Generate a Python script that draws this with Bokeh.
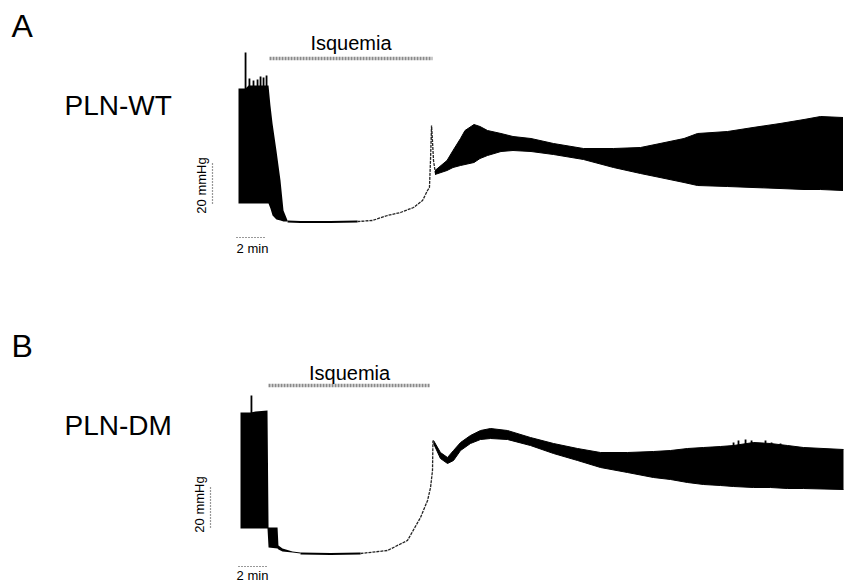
import math
from bokeh.plotting import figure
from bokeh.models import Range1d, Label
from bokeh.layouts import column
from bokeh.embed import file_html
from bokeh.resources import INLINE

# ---------------- data (time in min, pressure in mmHg) ----------------
# Panel A : PLN-WT
A_block_t = [0, 0.47, 0.67, 2.0, 2.13, 2.27, 2.53, 2.8, 3.0, 3.27]
A_block_hi = [71.5, 71.5, 73, 73, 63, 54, 40.5, 25.5, 10.5, 5.5]
A_block_lo = [14, 14, 14, 14, 11.5, 8, 6, 5.5, 5, 5]
A_spike_t = [0.47, 0.73, 1.0, 1.27, 1.47, 1.67, 1.87]
A_spike_top = [89.5, 76.5, 75.5, 76, 77.5, 77, 78]
A_spike_base = [71, 72, 72, 72, 72, 72, 72]
A_isch_t = [3.27, 4.13, 6.13, 7.93, 8.93, 9.93, 10.8, 11.67, 12.27, 12.6, 12.73, 12.8, 12.87, 12.93, 13.0, 13.13]
A_isch_p = [5.0, 4.75, 4.75, 5.0, 5.5, 8.0, 9.5, 12.0, 15.5, 20.5, 22.0, 35.5, 53.0, 45.5, 35.5, 29.0]
A_rep_t = [13.1, 13.9, 14.3, 14.8, 15.1, 15.7, 16.1, 16.6, 17.5, 18.3, 19.5, 21.0,
           23.0, 25.0, 26.8, 28.1, 29.7, 30.6, 32.6, 34.3, 36.1, 37.7, 38.8, 40.3]
A_rep_hi = [30.5, 35.5, 40.5, 46.5, 50.5, 53.5, 52.5, 50.5, 49.0, 47.5, 46.5, 44.0,
            41.5, 41.5, 42.0, 44.0, 46.5, 49.0, 50.0, 52.0, 54.0, 56.0, 57.5, 57.0]
A_rep_lo = [28.5, 30.5, 32.0, 33.0, 33.5, 34.5, 36.5, 38.0, 40.0, 40.5, 40.0, 38.5,
            36.0, 32.0, 29.0, 27.0, 24.5, 23.0, 22.5, 22.0, 21.5, 21.0, 21.0, 20.5]
A_ischemia = [2.07, 12.93]

# Panel B : PLN-DM
B_block_t = [0, 0.67, 1.0, 1.8, 1.87, 2.47, 2.53, 2.8, 3.47, 4.0]
B_block_hi = [75.5, 75.5, 76, 76.5, 18, 18, 9, 7.5, 6, 5.5]
B_block_lo = [17.5, 17.5, 17.5, 17.5, 8, 7.5, 7, 6, 5.5, 5]
B_spike_t = [0.73, 32.87, 33.2, 33.67, 34.07, 35.0, 35.4, 36.0]
B_spike_top = [84, 60.5, 61.5, 62, 61.5, 61.5, 60.5, 60]
B_spike_base = [75, 56, 56, 56, 56, 56, 56, 56]
B_isch_t = [4.0, 6.0, 8.0, 9.8, 11.13, 12.0, 12.47, 12.67, 12.8, 12.83]
B_isch_p = [5, 4.75, 5, 6.5, 11.5, 23, 31.5, 38, 46.5, 61.5]
B_rep_t = [12.87, 13.33, 13.8, 14.2, 14.67, 15.33, 16.0, 16.67, 17.8, 19.33, 20.87, 22.47,
           24.0, 25.8, 27.53, 28.67, 29.8, 30.87, 32.0, 32.87, 34.2, 35.33, 36.47, 37.53, 40.2]
B_rep_hi = [61.5, 55.5, 53, 56.5, 60.5, 64, 66.5, 67.5, 66.5, 63, 60, 57.5,
            55.5, 55.5, 56, 56.5, 57.5, 58, 58.5, 59, 60.5, 60, 59, 58, 57]
B_rep_lo = [60, 52.5, 50, 51.5, 56.5, 60, 62, 62.5, 62, 59, 55, 51.5,
            48, 45.5, 43, 42, 40.5, 39.5, 39, 38.5, 38, 38, 37.5, 37.5, 37]
B_ischemia = [1.87, 12.67]

SCALE_P = 20     # mmHg
SCALE_T = 2      # min

FONT = "Liberation Sans"
PX_PER_MIN = 15.0
PX_PER_MMHG = 2.0
W, H = 844, 291


def panel(x0_px, y0_px, letter, name, block, spikes, isch, rep, window,
          letter_c, name_c, isq_c, bar_y, pbar_x, pbar_base, pbar_lbl,
          tbar_x, tbar_y, tbar_lbl):
    # pixel -> data helpers (x0_px: time-zero pixel, y0_px: 0 mmHg pixel)
    def t(x):
        return (x - x0_px) / PX_PER_MIN

    def pr(y):
        return (y0_px - y) / PX_PER_MMHG

    p = figure(width=W, height=H, output_backend="svg", toolbar_location=None,
               x_range=Range1d(t(0), t(W)), y_range=Range1d(pr(H), pr(0)),
               x_axis_type=None, y_axis_type=None, min_border=0,
               outline_line_color=None, background_fill_color="white",
               border_fill_color="white")
    p.xgrid.visible = False
    p.ygrid.visible = False

    bt, bhi, blo = block
    p.varea(x=bt, y1=blo, y2=bhi, fill_color="black")
    st, stop, sbase = spikes
    p.segment(x0=st, y0=sbase, x1=st, y1=stop, line_color="black", line_width=1.8)

    it, ip = isch
    # solid floor, dotted recovery
    k = next(i for i, v in enumerate(it) if v >= 7.9)
    p.line(it[:k + 1], ip[:k + 1], line_color="black", line_width=2)
    p.line(it[k:], ip[k:], line_color="#222222", line_width=1.3, line_dash="3 1")

    rt, rhi, rlo = rep
    p.varea(x=rt, y1=rlo, y2=rhi, fill_color="black")
    p.line(rt, rhi, line_color="black", line_width=1)
    p.line(rt, rlo, line_color="black", line_width=1)

    # ischemia bar
    p.segment(x0=[window[0]], y0=[pr(bar_y)], x1=[window[1]], y1=[pr(bar_y)],
              line_color="#8a8a8a", line_width=3.5, line_dash="2 1")
    p.add_layout(Label(x=(window[0] + window[1]) / 2, y=pr(isq_c), text="Isquemia",
                       text_align="center", text_baseline="middle",
                       text_font=FONT, text_font_size="20px", text_color="black"))

    # scale bars
    p.segment(x0=[t(pbar_x)], y0=[pbar_base], x1=[t(pbar_x)], y1=[pbar_base + SCALE_P],
              line_color="#333333", line_width=1.2, line_dash="1 2")
    p.add_layout(Label(x=t(pbar_lbl[0]), y=pr(pbar_lbl[1]), text="20 mmHg",
                       angle=math.pi / 2, text_align="center", text_baseline="middle",
                       text_font=FONT, text_font_size="13px", text_color="black"))
    p.segment(x0=[t(tbar_x)], y0=[pr(tbar_y)], x1=[t(tbar_x) + SCALE_T], y1=[pr(tbar_y)],
              line_color="#333333", line_width=1.2, line_dash="1 2")
    p.add_layout(Label(x=t(tbar_lbl[0]), y=pr(tbar_lbl[1]), text="2 min",
                       text_align="center", text_baseline="middle",
                       text_font=FONT, text_font_size="13px", text_color="black"))

    # panel letter and genotype
    p.add_layout(Label(x=t(11), y=pr(letter_c), text=letter, text_align="left",
                       text_baseline="middle", text_font=FONT,
                       text_font_size="32px", text_color="black"))
    p.add_layout(Label(x=t(64), y=pr(name_c), text=name, text_align="left",
                       text_baseline="middle", text_font=FONT,
                       text_font_size="28px", text_color="black"))
    return p


pA = panel(238, 231, "A", "PLN-WT",
           (A_block_t, A_block_hi, A_block_lo),
           (A_spike_t, A_spike_top, A_spike_base),
           (A_isch_t, A_isch_p),
           (A_rep_t, A_rep_hi, A_rep_lo), A_ischemia,
           letter_c=25, name_c=105, isq_c=42, bar_y=58,
           pbar_x=212, pbar_base=14, pbar_lbl=(201, 185),
           tbar_x=236, tbar_y=237, tbar_lbl=(252, 248))

# panel B: local pixel rows = global - 291
pB = panel(240, 563 - 291, "B", "PLN-DM",
           (B_block_t, B_block_hi, B_block_lo),
           (B_spike_t, B_spike_top, B_spike_base),
           (B_isch_t, B_isch_p),
           (B_rep_t, B_rep_hi, B_rep_lo), B_ischemia,
           letter_c=345 - 291, name_c=425 - 291, isq_c=372 - 291, bar_y=385 - 291,
           pbar_x=210, pbar_base=18, pbar_lbl=(199, 504 - 291),
           tbar_x=238, tbar_y=566 - 291, tbar_lbl=(252, 575 - 291))

layout = column(pA, pB, spacing=0)
open("out.html", "w").write(file_html(layout, INLINE))
